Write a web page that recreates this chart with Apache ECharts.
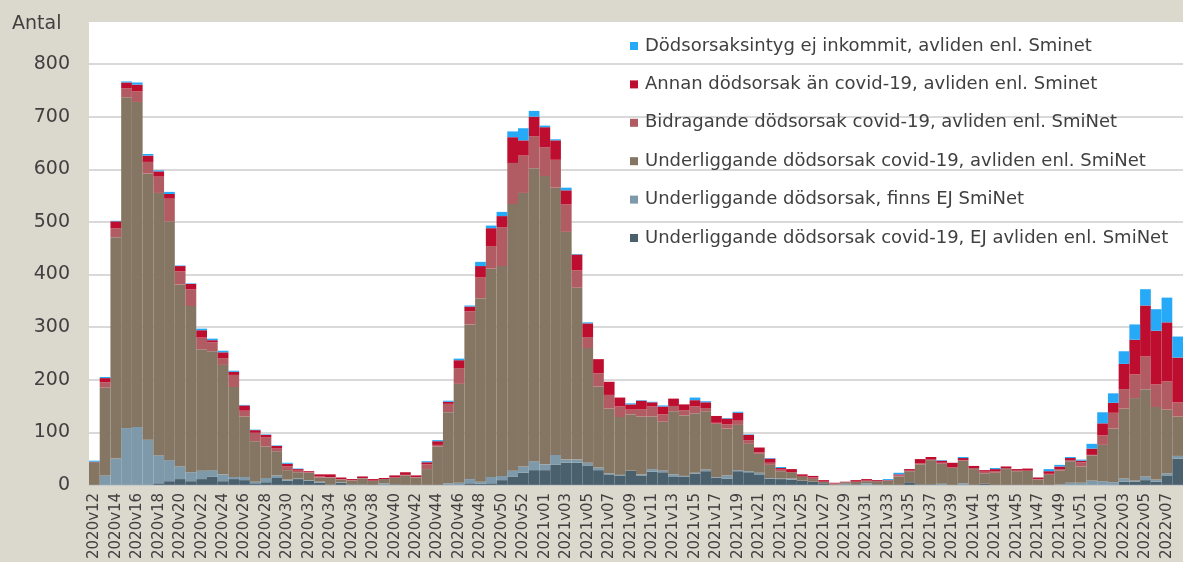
<!DOCTYPE html>
<html>
<head>
<meta charset="utf-8">
<script src="https://cdn.jsdelivr.net/npm/echarts@6/dist/echarts.min.js"></script>
<style>
html,body{margin:0;padding:0;background:#dbd8cd;}
#c{width:1183px;height:562px;}
</style>
</head>
<body>
<div id="c"></div>
<script>
const categories = [
'2020v12','2020v13','2020v14','2020v15','2020v16','2020v17','2020v18','2020v19','2020v20','2020v21',
'2020v22','2020v23','2020v24','2020v25','2020v26','2020v27','2020v28','2020v29','2020v30','2020v31',
'2020v32','2020v33','2020v34','2020v35','2020v36','2020v37','2020v38','2020v39','2020v40','2020v41',
'2020v42','2020v43','2020v44','2020v45','2020v46','2020v47','2020v48','2020v49','2020v50','2020v51',
'2020v52','2020v53',
'2021v01','2021v02','2021v03','2021v04','2021v05','2021v06','2021v07','2021v08','2021v09','2021v10',
'2021v11','2021v12','2021v13','2021v14','2021v15','2021v16','2021v17','2021v18','2021v19','2021v20',
'2021v21','2021v22','2021v23','2021v24','2021v25','2021v26','2021v27','2021v28','2021v29','2021v30',
'2021v31','2021v32','2021v33','2021v34','2021v35','2021v36','2021v37','2021v38','2021v39','2021v40',
'2021v41','2021v42','2021v43','2021v44','2021v45','2021v46','2021v47','2021v48','2021v49','2021v50',
'2021v51','2021v52',
'2022v01','2022v02','2022v03','2022v04','2022v05','2022v06','2022v07','2022v08'
];

// Underliggande dödsorsak covid-19, EJ avliden enl. SmiNet
const ejAvliden = [
0,0,0,0,0,0,3,7,11,7, 11,16,7,11,9,3,5,13,8,11, 8,4,1,4,1,1,0,0,1,0,
0,0,0,0,0,3,2,3,9,16, 23,28, 28,38,42,42,37,28,20,17,27,18, 25,24,15,16,21,26,14,12,26,24,
20,12,11,10,8,6,3,0,0,1, 0,1,0,0,5,1,1,0,0,0, 0,2,0,0,0,0,0,0,0,0,
0,0, 0,0,6,6,9,6,18,50
];
// Underliggande dödsorsak, finns EJ SmiNet
const finnsEj = [
0,18,50,108,110,86,53,40,24,17, 16,12,13,4,6,3,8,5,2,1, 1,2,0,1,0,0,0,3,0,0,
0,0,0,3,4,8,4,12,8,11, 12,17, 11,19,6,6,5,5,2,2,0,2, 5,3,5,1,2,3,1,6,2,2,
3,1,1,2,0,0,0,0,2,0, 3,0,0,0,0,0,0,2,0,3, 0,0,0,0,0,0,0,0,1,4,
4,8, 7,5,6,2,7,4,4,5
];
// Underliggande dödsorsak covid-19, avliden enl. SmiNet
const underliggande = [
43,167,421,629,618,506,499,454,346,316, 231,226,208,171,115,77,60,46,18,12, 14,8,13,5,7,11,8,8,13,18,
14,30,73,135,188,294,349,396,399,507, 520,557, 548,508,433,327,218,154,123,110,107,110, 100,93,120,115,113,111,101,89,86,52,
36,25,14,12,7,5,3,1,3,5, 4,6,8,16,21,38,46,38,33,43, 30,20,23,30,26,27,10,19,26,41,
31,48, 69,102,133,157,166,138,121,75
];
// Bidragande dödsorsak covid-19, avliden enl. SmiNet
const bidragande = [
0,10,17,17,20,22,31,43,25,32, 22,17,13,23,11,16,17,5,7,3, 1,2,1,1,1,1,0,0,0,1,
1,9,3,16,30,25,40,43,74,78, 71,61, 55,53,52,33,21,25,26,20,9,14, 19,14,10,10,13,6,2,8,8,7,
3,4,3,0,2,3,0,2,0,0, 1,0,0,2,1,2,1,2,0,1, 2,3,3,2,1,0,1,2,3,2,
8,1, 18,30,37,45,62,43,54,27
];
// Annan dödsorsak än covid-19, avliden enl. Sminet
const annan = [
1,8,13,11,13,12,10,9,10,10, 14,4,11,6,10,5,5,5,5,3, 2,4,5,3,2,3,3,2,4,5,
3,4,7,4,15,9,21,34,21,49, 29,37, 38,37,27,30,26,27,25,17,10,16, 8,15,14,11,12,11,13,11,15,10,
9,8,3,6,3,3,3,1,1,3, 3,2,1,2,3,8,5,4,9,4, 4,3,4,3,3,4,3,5,5,4,
3,12, 23,19,48,66,97,102,112,85
];
// Dödsorsaksintyg ej inkommit, avliden enl. Sminet
const ejInkommit = [
2,2,1,2,4,3,2,4,1,1, 3,3,3,2,1,1,1,1,2,1, 0,0,0,0,0,0,0,0,0,0,
0,2,2,2,3,2,8,5,8,11, 23,11, 3,2,5,1,2,0,0,0,2,1, 1,2,0,0,5,2,0,1,2,1,
0,1,2,0,0,0,0,0,0,0, 0,0,2,3,0,0,0,1,0,2, 0,0,2,0,0,0,0,4,3,2,
2,9, 21,18,24,29,31,41,47,40
];

const yTicks = [0,100,200,300,400,500,600,700,800];

const names = [
  'Underliggande dödsorsak covid-19, EJ avliden enl. SmiNet',
  'Underliggande dödsorsak, finns EJ SmiNet',
  'Underliggande dödsorsak covid-19, avliden enl. SmiNet',
  'Bidragande dödsorsak covid-19, avliden enl. SmiNet',
  'Annan dödsorsak än covid-19, avliden enl. Sminet',
  'Dödsorsaksintyg ej inkommit, avliden enl. Sminet'
];
const colors = ['#4a606d','#7e9aaa','#857563','#b15c62','#bd0e2f','#26a9f6'];
const dataSets = [ejAvliden, finnsEj, underliggande, bidragande, annan, ejInkommit];

const FONT = 'DejaVu Sans';
const chart = echarts.init(document.getElementById('c'), null, {renderer:'canvas'});
chart.setOption({
  backgroundColor: '#dbd8cd',
  animation: false,
  title: {
    text: 'Antal', left: 12, top: 15, padding: 0,
    textStyle: {fontFamily: FONT, fontSize: 19, fontWeight: 'normal', color: '#404040'}
  },
  legend: {
    orient: 'vertical', left: 630, top: 36, padding: 0,
    itemWidth: 8, itemHeight: 8, itemGap: 18.4,
    icon: 'rect',
    data: names.slice().reverse(),
    textStyle: {fontFamily: FONT, fontSize: 18, color: '#404040', lineHeight: 20, padding: [0,0,0,2]}
  },
  grid: {
    left: 89, top: 22, bottom: 74, width: 1101.6,
    show: true, backgroundColor: '#ffffff', borderWidth: 0
  },
  xAxis: {
    type: 'category', data: categories,
    axisLine: {show: true, lineStyle: {color: '#c8c8c8', width: 1}},
    axisTick: {show: false},
    axisLabel: {interval: 1, rotate: 90, margin: 8, fontFamily: FONT, fontSize: 15, color: '#404040'}
  },
  yAxis: {
    type: 'value', min: 0, max: 880, interval: 100,
    axisLine: {show: false}, axisTick: {show: false},
    axisLabel: {showMaxLabel: false, margin: 19, fontFamily: FONT, fontSize: 19, color: '#404040',
      formatter: v => yTicks.indexOf(v) >= 0 ? String(v) : ''},
    splitLine: {show: true, showMaxLine: false, lineStyle: {color: '#d9d9d9', width: 2}}
  },
  series: names.map((n, k) => ({
    name: n, type: 'bar', stack: 'total', data: dataSets[k],
    barCategoryGap: '0%', barGap: '0%',
    itemStyle: {color: colors[k]},
    emphasis: {disabled: true}
  }))
});
</script>
</body>
</html>
